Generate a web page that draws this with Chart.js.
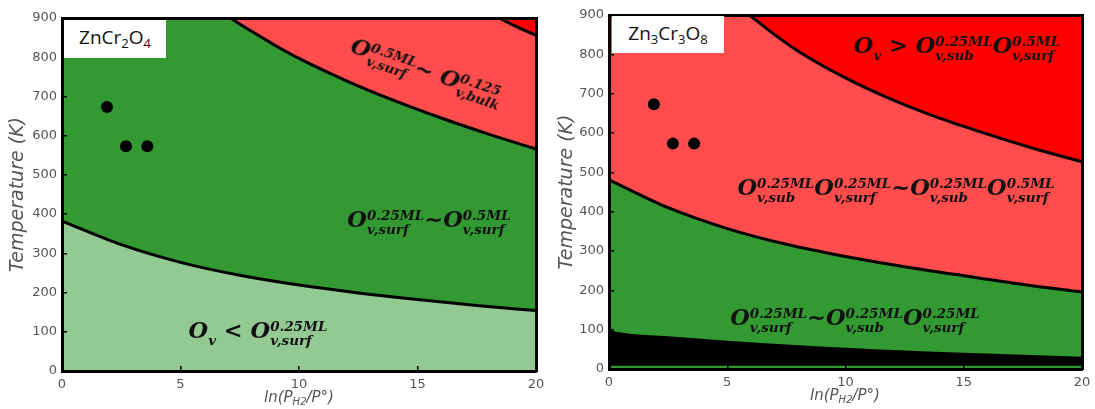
<!DOCTYPE html>
<html><head><meta charset="utf-8">
<script src="https://cdn.jsdelivr.net/npm/chart.js@4"></script>
<style>
html,body{margin:0;padding:0;background:#fff;width:1095px;height:409px;overflow:hidden;position:relative;}
canvas{position:absolute;top:0;}
#ca{left:0;} #cb{left:545px;}
.box{position:absolute;background:#fff;font-family:"Open Sans",sans-serif;font-size:19px;color:#111;text-align:center;line-height:1;}
.box span.in{display:inline-block;margin-top:8px;}
.box sub{font-size:13px;vertical-align:-4px;line-height:0;}
.xt{position:absolute;font-family:"DejaVu Sans",sans-serif;font-style:italic;font-size:15px;color:#555;transform:translate(-50%,-50%);white-space:nowrap;}
.xt sub{font-size:10px;vertical-align:-3px;line-height:0;}
.m{position:absolute;font-family:"DejaVu Serif",serif;font-weight:bold;font-style:italic;font-size:22.5px;color:#111;white-space:nowrap;transform:translate(-50%,-50%);line-height:1;}
.ss{display:inline-block;font-size:13.5px;line-height:13px;vertical-align:-7px;text-align:left;}
.ss span{display:block;}
.ss .sp{line-height:15px;}
</style></head>
<body>
<canvas id="ca" width="545" height="409"></canvas>
<canvas id="cb" width="550" height="409"></canvas>

<div class="box" style="left:64px;top:20px;width:102px;height:38px;"><span class="in">ZnCr<sub>2</sub>O<sub>4</sub></span></div>
<div class="box" style="left:612px;top:16px;width:112px;height:37px;"><span class="in">Zn<sub>3</sub>Cr<sub>3</sub>O<sub>8</sub></span></div>

<div class="xt" style="left:299px;top:397px;">ln(P<sub>H2</sub>/P°)</div>
<div class="xt" style="left:845px;top:395px;">ln(P<sub>H2</sub>/P°)</div>

<div class="m" style="left:426px;top:73px;transform:translate(-50%,-50%) rotate(19deg);">O<span class="ss"><span class="sp">0.5ML</span><span>v,surf</span></span>~ O<span class="ss"><span class="sp">0.125</span><span>v,bulk</span></span></div>
<div class="m" style="left:429px;top:222px;">O<span class="ss"><span class="sp">0.25ML</span><span>v,surf</span></span>~O<span class="ss"><span class="sp">0.5ML</span><span>v,surf</span></span></div>
<div class="m" style="left:258px;top:333px;">O<span class="ss"><span class="sp">&nbsp;</span><span>v</span></span> &lt; O<span class="ss"><span class="sp">0.25ML</span><span>v,surf</span></span></div>

<div class="m" style="left:957px;top:48px;">O<span class="ss"><span class="sp">&nbsp;</span><span>v</span></span> &gt; O<span class="ss"><span class="sp">0.25ML</span><span>v,sub</span></span>O<span class="ss"><span class="sp">0.5ML</span><span>v,surf</span></span></div>
<div class="m" style="left:896px;top:190px;">O<span class="ss"><span class="sp">0.25ML</span><span>v,sub</span></span>O<span class="ss"><span class="sp">0.25ML</span><span>v,surf</span></span>~O<span class="ss"><span class="sp">0.25ML</span><span>v,sub</span></span>O<span class="ss"><span class="sp">0.5ML</span><span>v,surf</span></span></div>
<div class="m" style="left:855px;top:320px;">O<span class="ss"><span class="sp">0.25ML</span><span>v,surf</span></span>~O<span class="ss"><span class="sp">0.25ML</span><span>v,sub</span></span>O<span class="ss"><span class="sp">0.25ML</span><span>v,surf</span></span></div>

<script>
// ---- data ----
// experimental points (same in both panels)
const expLnP = [1.9, 2.7, 3.6];
const expT   = [673, 573, 573];

// ZnCr2O4 panel boundaries
const znLowX  = [0, 2.5, 5, 7.5, 10, 12.5, 15, 17.5, 20];
const znLowT  = [382, 322, 277, 244, 219, 199, 182, 167, 154];
const znMidX  = [7.1, 8, 9, 10, 12, 14, 16, 18, 20];
const znMidT  = [900, 866, 830, 797, 740, 690, 645, 604, 566];
const znTopX  = [18.45, 19, 19.5, 20];
const znTopT  = [900, 883, 869, 856];

// Zn3Cr3O8 panel boundaries
const zcTopX  = [5.94, 7, 8, 10, 12, 14, 16, 18, 20];
const zcTopT  = [900, 850, 808, 740, 684, 637, 597, 560, 527];
const zcMidX  = [0, 2.5, 5, 7.5, 10, 12.5, 15, 17.5, 20];
const zcMidT  = [481, 410, 357, 317, 286, 260, 237, 215, 196];
const zcBlkX  = [0, 0.3, 2.5, 5, 7.5, 10, 12.5, 15, 17.5, 20];
const zcBlkT  = [100, 95, 83, 72, 62, 54, 47, 41, 36, 31];
const zcFloorT = 8;

const xTicks = [0, 5, 10, 15, 20];

const C = {
  lightGreen: '#93c993', green: '#339933', lightRed: '#ff4d4d', red: '#ff0000', black: '#000000'
};

function pts(xs, ys){ return xs.map((x,i)=>({x:x, y:ys[i]})); }

function curve(xs, ys, fill, color, bw){
  return {type:'line', data:pts(xs,ys), fill:fill, backgroundColor:color,
    borderColor:'#000', borderWidth:bw, pointRadius:0, cubicInterpolationMode:'monotone'};
}
function dots(){
  return {type:'scatter', data:pts(expLnP, expT), pointRadius:6, pointBackgroundColor:'#000', pointBorderWidth:0, showLine:false};
}

function makeOpts(leftW, bottomH, topH, rightW, titlePad){
  const tickFont = {family:'DejaVu Sans', size:13};
  return {
    responsive:false, animation:false, devicePixelRatio:1,
    layout:{padding:0},
    plugins:{legend:{display:false}, tooltip:{enabled:false}},
    scales:{
      x:{type:'linear', min:0, max:20, position:'bottom',
         afterBuildTicks:s=>{s.ticks = xTicks.map(v=>({value:v}));},
         ticks:{font:tickFont, color:'#555', padding:11, maxRotation:0},
         grid:{drawOnChartArea:false, tickLength:-5, color:'#000', lineWidth:1.5, z:1},
         border:{display:true, color:'#000', width:3, z:2},
         afterFit:s=>{s.height=bottomH; s.paddingLeft=0; s.paddingRight=0;}},
      y:{type:'linear', min:0, max:900, position:'left',
         ticks:{stepSize:100, font:tickFont, color:'#555', padding:10},
         grid:{drawOnChartArea:false, tickLength:-5, color:'#000', lineWidth:1.5, z:1},
         border:{display:true, color:'#000', width:3, z:2},
         title:{display:true, text:'Temperature (K)', font:{family:'DejaVu Sans', size:19, style:'italic'}, color:'#555', padding:{top:titlePad, bottom:0}},
         afterFit:s=>{s.width=leftW; s.paddingTop=0; s.paddingBottom=0;}},
      x2:{type:'linear', min:0, max:20, position:'top', display:true,
         ticks:{display:false}, grid:{display:false},
         border:{display:true, color:'#000', width:3, z:2},
         afterFit:s=>{s.height=topH; s.paddingLeft=0; s.paddingRight=0;}},
      y2:{type:'linear', min:0, max:900, position:'right', display:true,
         ticks:{display:false}, grid:{display:false},
         border:{display:true, color:'#000', width:3, z:2},
         afterFit:s=>{s.width=rightW; s.paddingTop=0; s.paddingBottom=0;}}
    }
  };
}

new Chart(document.getElementById('ca'), {
  data:{datasets:[
    dots(),
    curve(znTopX, znTopT, 'end', C.red, 3),
    curve(znMidX, znMidT, 'end', C.lightRed, 3),
    curve(znLowX, znLowT, 'end', C.green, 3),
    curve(znLowX, znLowT, 'start', C.lightGreen, 0)
  ]},
  options: makeOpts(62, 38, 18, 9, 7)
});

new Chart(document.getElementById('cb'), {
  data:{datasets:[
    dots(),
    curve(zcTopX, zcTopT, 'end', C.red, 3),
    curve(zcMidX, zcMidT, 'end', C.lightRed, 3),
    curve(zcBlkX, zcBlkT, {value:zcFloorT}, C.black, 0),
    curve(zcMidX, zcMidT, 'start', C.green, 0)
  ]},
  options: makeOpts(64, 40, 15, 13, 11)
});
</script>
</body></html>
